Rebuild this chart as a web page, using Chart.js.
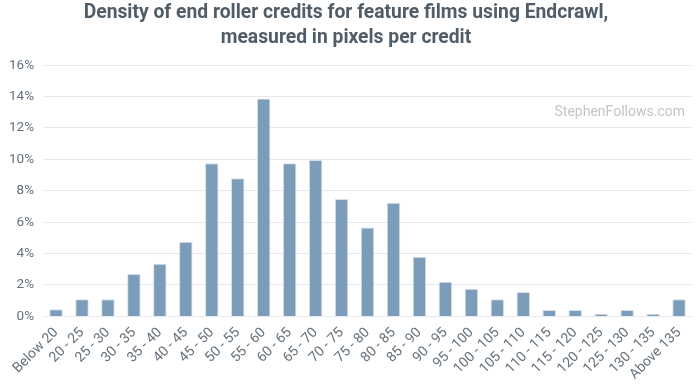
<!DOCTYPE html>
<html><head><meta charset="utf-8">
<script src="https://cdn.jsdelivr.net/npm/chart.js@4"></script>
<style>html,body{margin:0;padding:0;background:#fff}#wrap{width:700px;height:385px}</style>
</head><body><div id="wrap"><canvas id="c"></canvas></div>
<script>
const categories = ["Below 20","20 - 25","25 - 30","30 - 35","35 - 40","40 - 45","45 - 50","50 - 55","55 - 60","60 - 65","65 - 70","70 - 75","75 - 80","80 - 85","85 - 90","90 - 95","95 - 100","100 - 105","105 - 110","110 - 115","115 - 120","120 - 125","125 - 130","130 - 135","Above 135"];
const shareValues = [0.45,1.1,1.1,2.7,3.36,4.75,9.75,8.8,13.87,9.75,9.96,7.47,5.67,7.24,3.8,2.21,1.76,1.1,1.55,0.4,0.4,0.17,0.4,0.17,1.1];
const titleLines = ["Density of end roller credits for feature films using Endcrawl,","measured in pixels per credit"];
const watermark = "StephenFollows.com";

const wm = {id:'wm', afterDatasetsDraw(chart){
  const {ctx, chartArea} = chart;
  ctx.save();
  ctx.font = '14px Roboto';
  ctx.fillStyle = '#c4c4c4';
  ctx.textAlign = 'right';
  ctx.textBaseline = 'middle';
  ctx.fillText(watermark, chartArea.right - 7, 112);
  ctx.restore();
}};

new Chart(document.getElementById('c'), {
  type:'bar',
  data:{labels:categories, datasets:[{data:shareValues, backgroundColor:'#7b9db9', borderColor:'#d6e1ea', borderWidth:1, barPercentage:0.52, categoryPercentage:1}]},
  options:{
    responsive:true, maintainAspectRatio:false, animation:false,
    layout:{padding:{left:0,right:8,top:0,bottom:2}},
    plugins:{
      legend:{display:false}, tooltip:{enabled:false},
      title:{display:true, text:titleLines, color:'#4f5d68', font:{family:'Roboto', size:19.3, weight:'bold', lineHeight:1.3}, padding:{top:1,bottom:14}}
    },
    scales:{
      x:{grid:{display:false}, border:{display:false},
        ticks:{color:'#66717c', font:{family:'Roboto', size:14}, maxRotation:45, minRotation:45, autoSkip:false, padding:0}},
      y:{min:0, max:16, border:{display:false},
        grid:{color:'#e5e9ee', lineWidth:1, drawTicks:false},
        ticks:{stepSize:2, color:'#66717c', font:{family:'Roboto', size:13.5}, padding:9, callback:v=>v+'%'}}
    }
  },
  plugins:[wm]
});
</script></body></html>
